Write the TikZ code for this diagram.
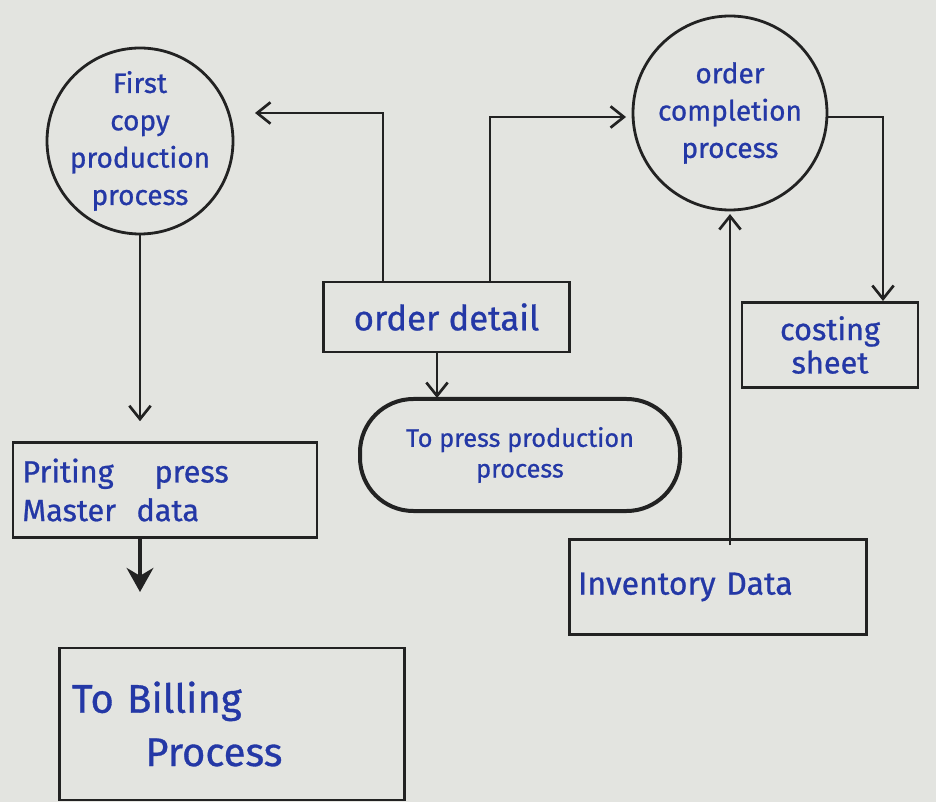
\documentclass[tikz,border=0pt]{standalone}
\usepackage{fontspec}
\setmainfont{Fira Sans}
\newfontfamily\inkfont[FakeBold=0.8]{Fira Sans}
\usetikzlibrary{arrows.meta,calc,shapes.geometric}
\definecolor{paper}{HTML}{E3E4E0}
\definecolor{ink}{HTML}{2438A6}
\definecolor{pen}{HTML}{222222}
\tikzset{
  proc/.style={circle,draw=pen,line width=2.1pt,inner sep=-14pt,text=ink,align=center,font=\inkfont\fontsize{21}{28}\selectfont},
  store/.style={rectangle,draw=pen,line width=2.2pt,inner sep=4pt,text=ink},
  blob/.style={rectangle,rounded corners=40pt,draw=pen,line width=3pt,text=ink,align=center,font=\inkfont\fontsize{19}{23}\selectfont},
  flow/.style={draw=pen,line width=2pt,-{Straight Barb[length=10pt,width=16pt,line width=2pt]}},
  bigflow/.style={draw=pen,line width=3pt,-{Stealth[length=18pt,width=20pt]}}
}
\begin{document}
\begin{tikzpicture}[x=0.75pt,y=-0.75pt]
\fill[paper] (0,0) rectangle (936,802);
\useasboundingbox (0,0) rectangle (936,802);

\node[proc,minimum size=139.5pt] (fc) at (140,141) {First\\copy\\production\\process};
\node[proc,minimum size=145.5pt] (oc) at (730,113) {order\\completion\\process};
\node[store,minimum width=185pt,minimum height=52.5pt,font=\inkfont\fontsize{26}{30}\selectfont] (od) at (446.5,317) {order detail};
\node[blob,minimum width=240pt,minimum height=84pt] (tp) at (520,455) {To press production\\process};
\node[store,minimum width=228pt,minimum height=71pt,text width=214pt,align=left,font=\inkfont\fontsize{23}{29}\selectfont] (pp) at (165,490) {Priting\quad\ press\\Master\ \ data};
\node[store,minimum width=259pt,minimum height=114pt,text width=240pt,align=left,font=\inkfont\fontsize{30}{40}\selectfont] (bp) at (232,724) {To Billing\\\hspace*{55pt}Process};
\node[store,minimum width=223pt,minimum height=71pt,text width=210pt,align=left,font=\inkfont\fontsize{24}{28}\selectfont] (inv) at (718,587) {Inventory Data};
\node[store,minimum width=132pt,minimum height=64pt,align=center,font=\inkfont\fontsize{23}{25}\selectfont] (cs) at (830,345) {costing\\sheet};

% connectors
\coordinate (odL) at (383,282);
\coordinate (odR) at (490,282);
\coordinate (fcin) at (255,113);
\coordinate (ocin) at (626,117);
\coordinate (ocout) at (827,117);
\coordinate (csin) at (883,301);
\coordinate (billtip) at (140,592);
\coordinate (ppout) at (140,538);
\coordinate (odout) at (437,352);
\coordinate (tpin) at (437,398);
\coordinate (invout) at (730,545);

\draw[flow,shorten >=15pt] (fc.south) -- (fc.south |- pp.north);
\draw[flow] (odL) |- (fcin);
\draw[flow] (odR) |- (ocin);
\draw[flow] (ocout) -| (csin);
\draw[flow] (odout) -- (tpin);
\draw[flow,shorten >=2pt] (invout) -- (oc.south);
\draw[bigflow] (ppout) -- (billtip);
\end{tikzpicture}
\end{document}
